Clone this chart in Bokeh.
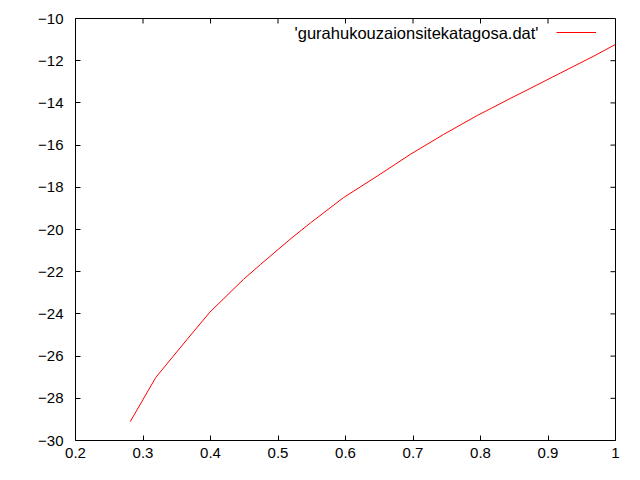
import math
from bokeh.plotting import figure
from bokeh.models import Range1d, Legend, LegendItem, Label, FixedTicker
from bokeh.embed import file_html
from bokeh.resources import INLINE

# data
x_vals = [0.281, 0.319, 0.365, 0.399, 0.449, 0.474, 0.518, 0.548, 0.597, 0.647,
          0.696, 0.745, 0.795, 0.820, 0.844, 0.869, 0.918, 0.968, 1.000]
y_vals = [-29.11, -27.01, -25.22, -23.92, -22.36, -21.66, -20.46, -19.69, -18.49, -17.47,
          -16.44, -15.50, -14.60, -14.19, -13.79, -13.39, -12.59, -11.78, -11.23]
x_ticks = [0.2, 0.3, 0.4, 0.5, 0.6, 0.7, 0.8, 0.9, 1.0]
y_ticks = [-30, -28, -26, -24, -22, -20, -18, -16, -14, -12, -10]
x_min, x_max = 0.2, 1.0
y_min, y_max = -30, -10
series_name = "'gurahukouzaionsitekatagosa.dat'"

FONT = "Liberation Sans"
FS = "15px"

p = figure(width=624, height=464, output_backend="svg", toolbar_location=None,
           x_range=Range1d(x_min, x_max), y_range=Range1d(y_min, y_max),
           min_border_left=75, min_border_right=9, min_border_top=18, min_border_bottom=24)
p.grid.visible = False
p.outline_line_color = "black"
p.outline_line_width = 1
p.background_fill_color = "white"
p.border_fill_color = "white"

p.xaxis.ticker = FixedTicker(ticks=x_ticks, minor_ticks=[])
p.yaxis.ticker = FixedTicker(ticks=y_ticks, minor_ticks=[])
p.xaxis.major_label_overrides = {1.0: "1"}
for ax in list(p.xaxis) + list(p.yaxis):
    ax.axis_line_color = None
    ax.major_tick_in = 5
    ax.major_tick_out = 0
    ax.minor_tick_line_color = None
    ax.major_tick_line_color = "black"
    ax.major_label_text_font = FONT
    ax.major_label_text_font_size = FS
    ax.major_label_text_color = "black"
p.xaxis.major_label_standoff = 7
p.yaxis.major_label_standoff = 12

# mirrored inward ticks on top and right borders (dash markers clipped by the frame)
p.scatter(x_ticks, [y_max] * len(x_ticks), marker="dash", angle=math.pi / 2, size=10,
          line_color="black", line_width=1)
p.scatter([x_max] * len(y_ticks), y_ticks, marker="dash", size=10,
          line_color="black", line_width=1)

r = p.line(x_vals, y_vals, line_color="#ff0000", line_width=1)

legend = Legend(items=[LegendItem(label=" ", renderers=[r])],
                location=(481, 403), padding=0, margin=0, spacing=0,
                glyph_width=40, glyph_height=10, label_standoff=0,
                border_line_color=None, background_fill_alpha=0,
                label_text_font=FONT, label_text_font_size=FS)
p.add_layout(legend, "center")

lbl = Label(x=463, y=408, x_units="screen", y_units="screen", text=series_name,
            text_align="right", text_baseline="middle",
            text_font=FONT, text_font_size="16.5px", text_color="black")
p.add_layout(lbl)

open("out.html", "w").write(file_html(p, INLINE))
